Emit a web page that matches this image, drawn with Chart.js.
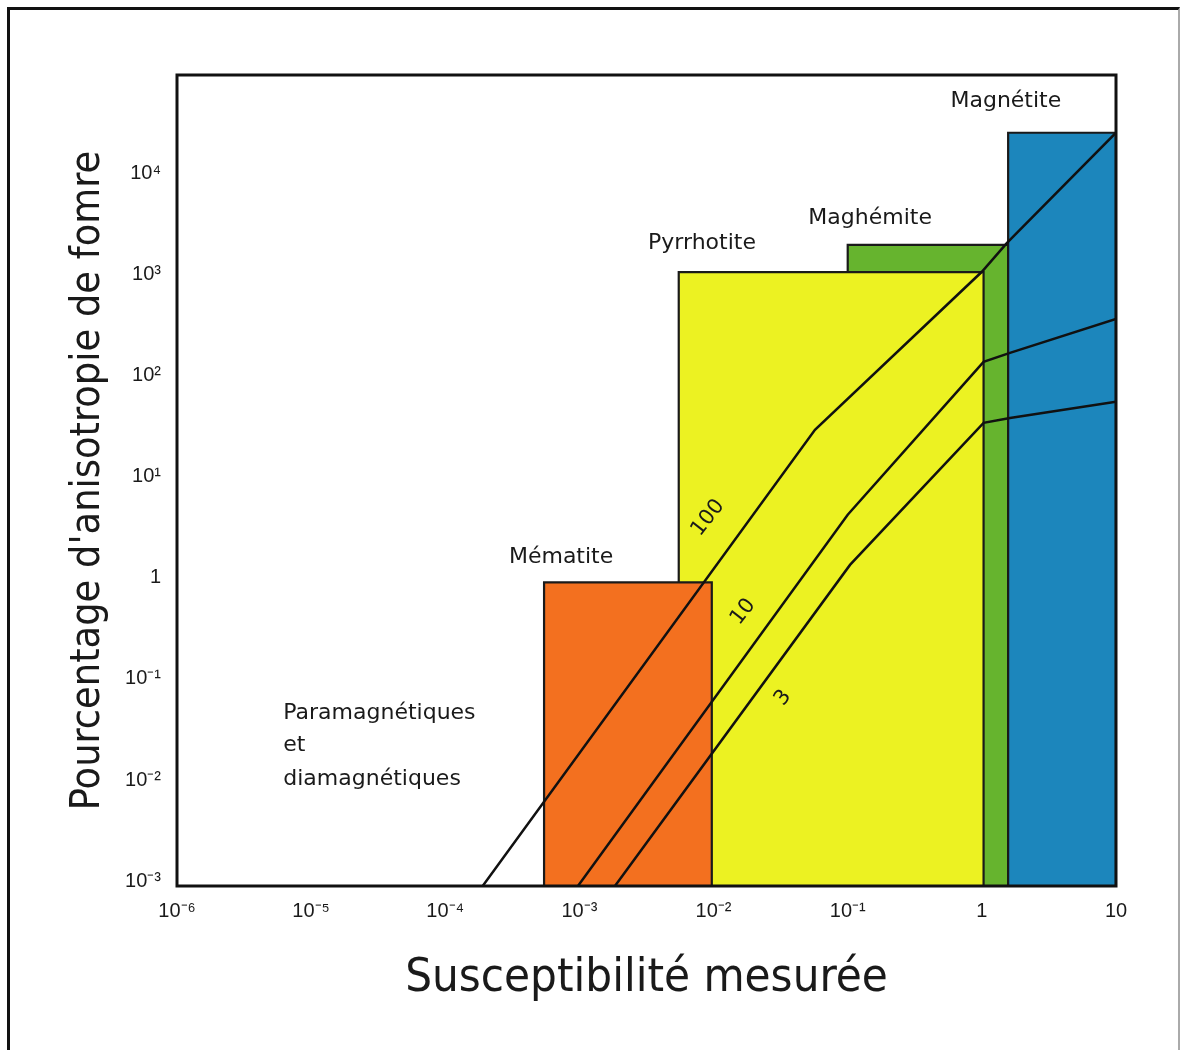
<!DOCTYPE html>
<html lang="fr">
<head>
<meta charset="utf-8">
<title>Anisotropie de forme et susceptibilité</title>
<script src="https://cdn.jsdelivr.net/npm/chart.js@4.4.1/dist/chart.umd.min.js"></script>
<style>
    html, body { margin: 0; padding: 0; background: #ffffff; }
    #wrap { position: relative; width: 1180px; height: 1050px; overflow: hidden; }
    #frame {
        position: absolute; left: 7px; top: 7px; width: 1168px; height: 1100px;
        border-top: 3px solid #111; border-left: 3px solid #111; border-right: 2px solid #aaa;
        pointer-events: none;
    }
</style>
</head>
<body>
<div id="wrap">
    <canvas id="anisoChart" width="1180" height="1050"></canvas>
    <div id="frame"></div>
</div>
<script>
// Axis ranges and ticks
const xRange = [1e-6, 10];
const yRange = [9e-4, 9.3e4];
const xTicks = [1e-6, 1e-5, 1e-4, 1e-3, 1e-2, 1e-1, 1, 10];
const xTickLabels = ['10⁻⁶', '10⁻⁵', '10⁻⁴', '10⁻³', '10⁻²', '10⁻¹', '1', '10'];
const yTicks = [1e-3, 1e-2, 1e-1, 1, 10, 100, 1000, 10000];
const yTickLabels = ['10⁻³', '10⁻²', '10⁻¹', '1', '10¹', '10²', '10³', '10⁴'];

// Mineral domains (listed back to front)
const minerals = ['Maghémite', 'Magnétite', 'Pyrrhotite', 'Mématite'];
const mineralXStart = [0.1, 1.57, 5.5e-3, 5.45e-4];
const mineralXEnd = [1.57, 10, 1.03, 9.7e-3];
const mineralTop = [1950, 25000, 1050, 0.9];
const mineralColors = ['#66B42E', '#1C86BC', '#ECF222', '#F3701F'];

// Iso-anisotropy curves
const curveNames = ['100', '10', '3'];
const curveX = [
    [1.9e-4, 0.057, 1.0, 1.54, 10],
    [9.75e-4, 0.1, 1.03, 1.62, 10],
    [1.84e-3, 0.104, 1.03, 1.62, 10]
];
const curveY = [
    [9e-4, 29, 1057, 2042, 25000],
    [9e-4, 4.2, 136, 167, 362],
    [9e-4, 1.34, 34, 38, 55]
];
const curveLabelX = [9.1e-3, 0.0166, 0.033];
const curveLabelY = [3.9, 0.46, 0.065];

// Text labels
const labelTexts = ['Magnétite', 'Maghémite', 'Pyrrhotite', 'Mématite'];
const labelX = [1.51, 0.147, 8.2e-3, 7.3e-4];
const labelY = [50600, 3600, 2040, 1.58];
const fieldLines = ['Paramagnétiques', 'et', 'diamagnétiques'];
const fieldX = 6.2e-6;
const fieldY = [0.046, 0.0219, 0.0103];

const TEXT_COLOR = '#1a1a1a';
const TITLE_FAMILY = "'DejaVu Sans Condensed', 'Liberation Sans Narrow', 'DejaVu Sans', sans-serif";

// Build datasets: curves on top, then mineral rectangles
const curveDatasets = curveNames.map((name, i) => ({
    label: name,
    data: curveX[i].map((x, j) => ({ x: x, y: curveY[i][j] })),
    borderColor: '#111',
    borderWidth: 2.5,
    pointRadius: 0,
    fill: false,
    tension: 0,
    order: 0
}));

const mineralDatasets = minerals.map((name, i) => ({
    label: name,
    data: [
        { x: mineralXStart[i], y: yRange[0] },
        { x: mineralXStart[i], y: mineralTop[i] },
        { x: mineralXEnd[i], y: mineralTop[i] },
        { x: mineralXEnd[i], y: yRange[0] }
    ],
    borderColor: '#1a1a1a',
    borderWidth: 2.2,
    backgroundColor: mineralColors[i],
    pointRadius: 0,
    fill: 'start',
    tension: 0,
    order: minerals.length - i
}));

// Plot frame and annotations
const annotationPlugin = {
    id: 'annotations',
    afterDatasetsDraw(chart) {
        const { ctx, chartArea, scales } = chart;
        const xs = scales.x, ys = scales.y;
        ctx.save();

        ctx.strokeStyle = '#111';
        ctx.lineWidth = 3;
        ctx.strokeRect(chartArea.left, chartArea.top,
            chartArea.right - chartArea.left, chartArea.bottom - chartArea.top);

        ctx.fillStyle = TEXT_COLOR;
        ctx.font = '22px "DejaVu Sans"';
        ctx.textAlign = 'center';
        ctx.textBaseline = 'middle';
        labelTexts.forEach((t, i) => {
            ctx.fillText(t, xs.getPixelForValue(labelX[i]), ys.getPixelForValue(labelY[i]));
        });

        ctx.textAlign = 'left';
        fieldLines.forEach((t, i) => {
            ctx.fillText(t, xs.getPixelForValue(fieldX), ys.getPixelForValue(fieldY[i]));
        });

        ctx.font = '21px "DejaVu Sans"';
        ctx.textAlign = 'center';
        curveNames.forEach((t, i) => {
            ctx.save();
            ctx.translate(xs.getPixelForValue(curveLabelX[i]), ys.getPixelForValue(curveLabelY[i]));
            ctx.rotate(-52 * Math.PI / 180);
            ctx.fillText(t, 0, 0);
            ctx.restore();
        });

        ctx.restore();
    }
};

const tickFont = { family: "'Liberation Sans', sans-serif", size: 20 };

new Chart(document.getElementById('anisoChart'), {
    type: 'line',
    data: { datasets: curveDatasets.concat(mineralDatasets) },
    options: {
        responsive: false,
        animation: false,
        events: [],
        layout: { padding: { top: 75, right: 64, bottom: 0, left: 0 } },
        plugins: {
            legend: { display: false },
            tooltip: { enabled: false }
        },
        scales: {
            x: {
                type: 'logarithmic',
                min: xRange[0],
                max: xRange[1],
                afterBuildTicks: scale => { scale.ticks = xTicks.map(v => ({ value: v })); },
                afterFit: scale => { scale.height = 164; },
                grid: { display: false, drawTicks: false },
                border: { display: false },
                ticks: {
                    autoSkip: false,
                    maxRotation: 0,
                    padding: 13,
                    color: TEXT_COLOR,
                    font: tickFont,
                    callback: (value, index) => xTickLabels[index]
                },
                title: {
                    display: true,
                    text: 'Susceptibilité mesurée',
                    color: TEXT_COLOR,
                    font: { family: TITLE_FAMILY, weight: 'normal condensed', size: 47 },
                    padding: { top: 0, bottom: 43 }
                }
            },
            y: {
                type: 'logarithmic',
                min: yRange[0],
                max: yRange[1],
                afterBuildTicks: scale => { scale.ticks = yTicks.map(v => ({ value: v })); },
                afterFit: scale => { scale.width = 177; },
                grid: { display: false, drawTicks: false },
                border: { display: false },
                ticks: {
                    autoSkip: false,
                    padding: 16,
                    color: TEXT_COLOR,
                    font: tickFont,
                    callback: (value, index) => yTickLabels[index]
                },
                title: {
                    display: true,
                    text: "Pourcentage d'anisotropie de fomre",
                    color: TEXT_COLOR,
                    font: { family: TITLE_FAMILY, weight: 'normal condensed', size: 41 },
                    padding: { top: 64, bottom: 0 }
                }
            }
        }
    },
    plugins: [annotationPlugin]
});
</script>
</body>
</html>
